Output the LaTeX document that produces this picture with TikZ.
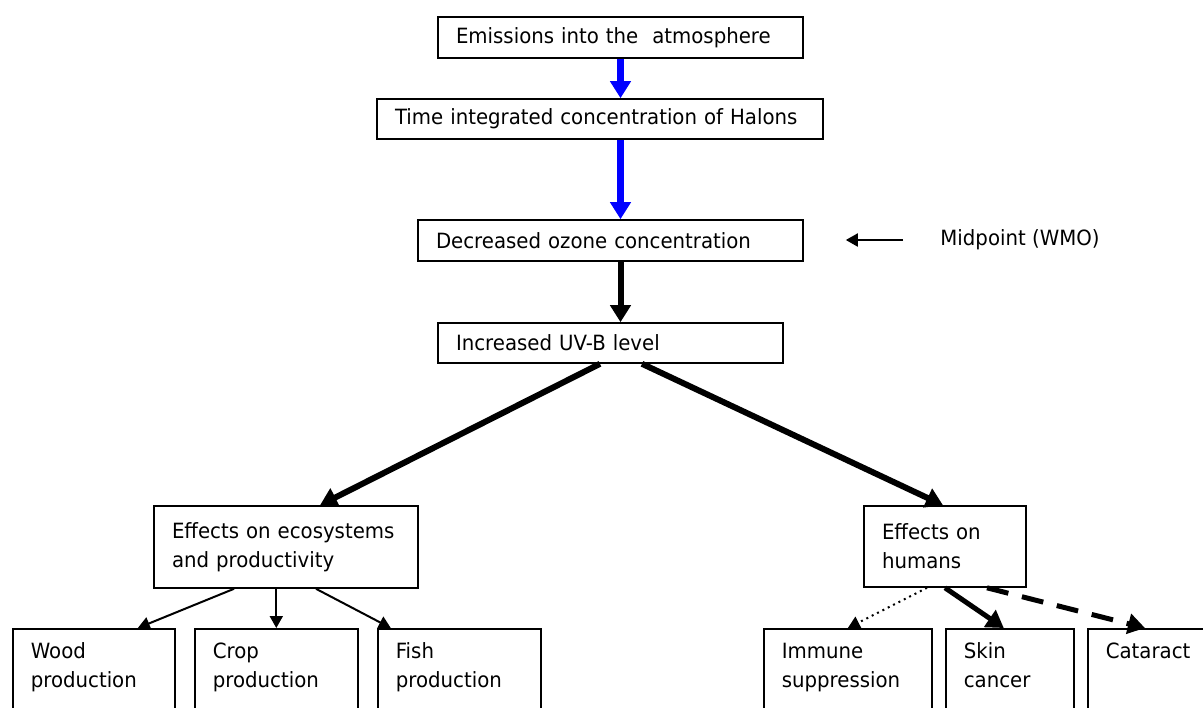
\documentclass[tikz,border=0pt]{standalone}
\usepackage{fontspec}
\setmainfont{DejaVu Sans}[FakeStretch=0.94]
\usepackage{tikz}
\usetikzlibrary{arrows.meta}

\begin{document}
\begin{tikzpicture}[x=0.5pt, y=-0.5pt,
    font=\fontsize{10.5}{14.5}\selectfont,
    box/.style={draw, line width=0.8pt, align=left, inner xsep=9pt, inner ysep=0pt},
    prodbox/.style={box, anchor=north west, inner ysep=7pt, text height=8pt, text depth=50pt},
    bluearrow/.style={-{Triangle[width=10pt,length=8.5pt]}, blue, line width=3.5pt},
    fatarrow/.style={-{Triangle[width=10pt,length=8.5pt]}, line width=3pt},
    thinarrow/.style={-{Triangle[width=6.5pt,length=6pt]}, line width=1pt}]
    \useasboundingbox (0,0) rectangle (1203,707);
    \node[box, text width=164.5pt, minimum height=20.5pt] (emis) at (620.5,37.5) {Emissions into the\ \ atmosphere};
    \node[box, text width=205pt, minimum height=20pt] (conc) at (600,119) {Time integrated concentration of Halons};
    \node[box, text width=174.5pt, minimum height=20.5pt] (ozone) at (610.5,240.5) {Decreased ozone concentration};
    \node[box, text width=154.5pt, minimum height=20pt] (uvb) at (610.5,343) {Increased UV-B level};
    \node[anchor=west, inner sep=0pt] (mid) at (940,240) {Midpoint (WMO)};
    \node[box, text width=114pt, minimum height=41pt] (eco) at (286,547) {Effects on ecosystems\\and productivity};
    \node[box, text width=63pt, minimum height=40.5pt] (hum) at (945,546.5) {Effects on\\humans};
    \node[prodbox, text width=63pt] (wood) at (12,628) {Wood\\production};
    \node[prodbox, text width=63.5pt] (crop) at (194,628) {Crop\\production};
    \node[prodbox, text width=63.5pt] (fish) at (377,628) {Fish\\production};
    \node[prodbox, text width=66pt] (immune) at (763,628) {Immune\\suppression};
    \node[prodbox, text width=46pt] (skin) at (945,628) {Skin\\cancer};
    \node[prodbox, text width=57pt] (cat) at (1087,628) {Cataract};

    \draw[bluearrow] (emis.south) -- (emis.south |- conc.north);
    \draw[bluearrow] (emis.south |- conc.south) -- (emis.south |- ozone.north);
    \draw[fatarrow] (emis.south |- ozone.south) -- (emis.south |- uvb.north);
    \draw[thinarrow] ([xshift=-18.5pt]mid.west) -- ([xshift=21pt]ozone.east |- mid.west);
    \draw[fatarrow] ([xshift=-5.25pt]uvb.south) -- ([xshift=17pt]eco.north);
    \draw[fatarrow] ([xshift=15.75pt]uvb.south) -- ([xshift=-1pt]hum.north);
    \draw[thinarrow] ([xshift=-26pt]eco.south) -- ([xshift=22pt]wood.north);
    \draw[thinarrow] (crop.north |- eco.south) -- (crop.north);
    \draw[thinarrow] ([xshift=15pt]eco.south) -- ([xshift=-34.25pt]fish.north);
    \draw[thinarrow, dotted] ([xshift=-9pt]hum.south) -- (immune.north);
    \draw[fatarrow, line width=2.5pt] (hum.south) -- ([xshift=-3pt]skin.north);
    \draw[fatarrow, line width=2.5pt, dash pattern=on 11pt off 7pt] ([xshift=21pt]hum.south) -- ([xshift=29pt]cat.north west);
\end{tikzpicture}
\end{document}
